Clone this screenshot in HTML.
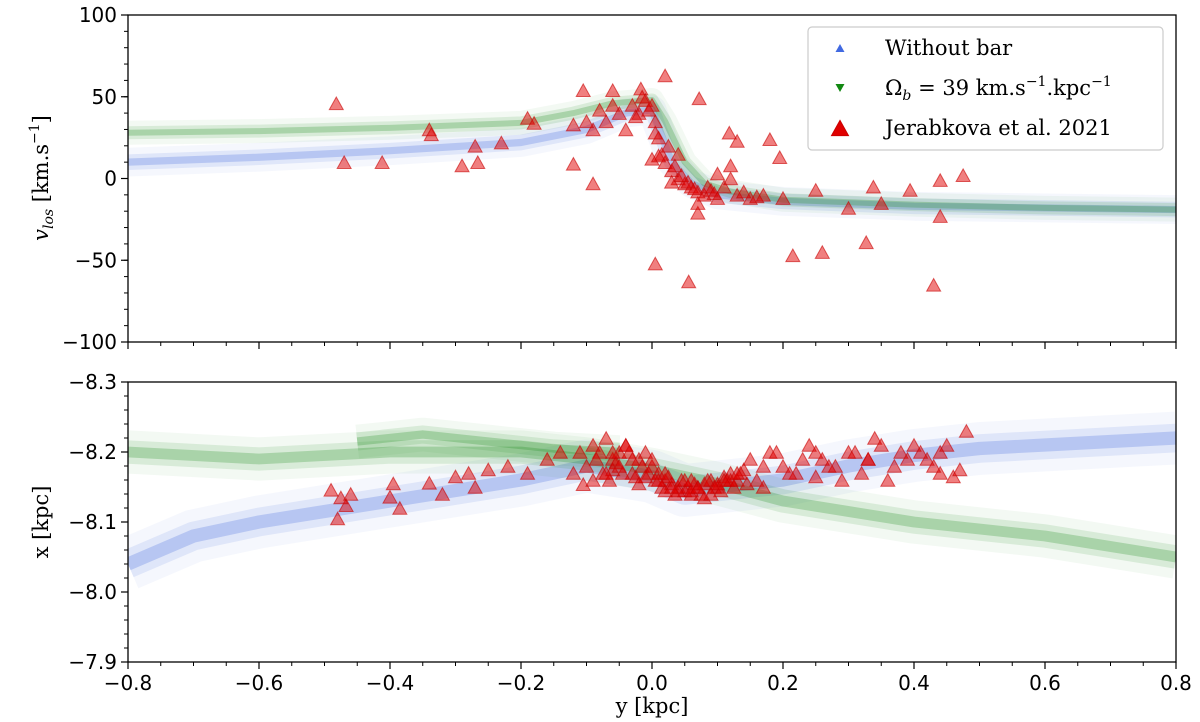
<!DOCTYPE html>
<html><head><meta charset="utf-8"><style>
html,body{margin:0;padding:0;background:#fff;width:1200px;height:722px;overflow:hidden}
svg{display:block}
.tk{font-family:"DejaVu Sans","Liberation Sans",sans-serif;font-size:20px;fill:#000}
.lb{font-family:"DejaVu Serif","Liberation Serif",serif;font-size:21px;fill:#000}
</style></head><body>
<svg id="chart" width="1200" height="722" xmlns="http://www.w3.org/2000/svg"></svg>
<script>
// ---- data ----
const xTicks=[-0.8,-0.6,-0.4,-0.2,0.0,0.2,0.4,0.6,0.8];
const xTickLabels=["\u22120.8","\u22120.6","\u22120.4","\u22120.2","0.0","0.2","0.4","0.6","0.8"];
const vTicks=[100,50,0,-50,-100];
const vTickLabels=["100","50","0","\u221250","\u2212100"];
const xpTicks=[-8.3,-8.2,-8.1,-8.0,-7.9];
const xpTickLabels=["\u22128.3","\u22128.2","\u22128.1","\u22128.0","\u22127.9"];
const blueTopY=[-0.8,-0.6,-0.4,-0.2,-0.1,-0.04,0.0,0.03,0.06,0.1,0.2,0.4,0.6,0.8];
const blueTopV=[10,13,17,22,30,40,42,10,-3,-10,-14,-17,-18,-19];
const greenTopY=[-0.8,-0.6,-0.4,-0.2,-0.12,-0.06,0.0,0.02,0.05,0.08,0.12,0.2,0.4,0.6,0.8];
const greenTopV=[28,29,31,34,40,46,48,35,10,-3,-8,-13,-16,-18,-19];
const blueBotY=[-0.8,-0.7,-0.6,-0.4,-0.2,-0.1,0.0,0.05,0.1,0.2,0.3,0.4,0.5,0.6,0.7,0.8];
const blueBotX=[-8.04,-8.08,-8.1,-8.13,-8.16,-8.18,-8.165,-8.145,-8.15,-8.16,-8.18,-8.195,-8.205,-8.21,-8.215,-8.22];
const greenBotY=[-0.8,-0.6,-0.4,-0.2,-0.1,0.0,0.05,0.1,0.2,0.3,0.4,0.5,0.6,0.7,0.8];
const greenBotX=[-8.2,-8.19,-8.2,-8.2,-8.19,-8.175,-8.165,-8.155,-8.13,-8.115,-8.1,-8.09,-8.08,-8.065,-8.05];
const greenBot2Y=[-0.45,-0.35,-0.25,-0.15,-0.05];
const greenBot2X=[-8.215,-8.225,-8.215,-8.205,-8.2];
const obsTopY=[-0.482,-0.47,-0.412,-0.34,-0.337,-0.29,-0.266,-0.27,-0.23,-0.19,-0.18,-0.12,-0.09,-0.105,-0.06,-0.017,0.02,0.072,0.005,0.056,0.07,0.118,0.13,0.18,0.195,0.215,0.26,0.327,0.338,0.394,0.43,0.44,0.44,0.475,0.25,0.30,0.35,
-0.03,-0.02,-0.01,0.0,0.005,0.01,0.015,0.02,0.03,0.04,0.05,0.06,0.07,0.08,0.09,0.1,0.11,0.12,0.13,0.15,-0.05,-0.07,-0.09,-0.06,-0.04,-0.1,-0.12,0.0,0.01,0.04,0.03,0.07,0.1,0.12,0.17,0.2,-0.015,-0.005,0.025,0.035,0.045,0.055,0.065,0.085,0.095,-0.08,-0.025,0.005,0.14,0.16];
const obsTopV=[46,10,10,30,27,8,10,20,22,37,34,9,-3,54,54,55,63,49,-52,-63,-21,28,23,24,13,-47,-45,-39,-5,-7,-65,-1,-23,2,-7,-18,-15,
45,40,48,45,35,25,15,10,5,0,-3,-5,-8,-10,-7,-12,-5,0,-10,-12,40,35,30,45,30,35,33,12,14,15,-2,-15,3,8,-10,-12,50,42,20,8,2,-2,-6,-5,-9,42,38,28,-8,-11];
const obsBotY=[-0.48,-0.467,-0.49,-0.475,-0.46,-0.4,-0.395,-0.385,-0.34,-0.32,-0.3,-0.28,-0.27,-0.25,-0.22,-0.19,-0.16,-0.14,-0.12,-0.105,-0.11,-0.09,-0.08,-0.07,-0.06,-0.05,-0.04,-0.03,-0.02,-0.01,0.0,0.01,0.02,0.03,0.04,0.05,0.06,0.07,0.08,0.09,0.1,0.11,0.12,0.13,0.14,0.15,0.16,0.18,0.2,0.22,0.24,0.26,0.28,0.3,0.32,0.34,0.36,0.38,0.4,0.42,0.44,0.46,0.48,
-0.1,-0.085,-0.075,-0.065,-0.055,-0.045,-0.035,-0.025,-0.015,-0.005,0.005,0.015,0.025,0.035,0.045,0.055,0.065,0.075,0.085,0.095,0.105,0.115,0.125,0.135,0.145,0.17,0.19,0.21,0.23,0.25,0.27,0.29,0.31,0.33,0.35,0.37,0.39,0.41,0.43,0.45,0.47,0.02,0.06,0.1,-0.06,-0.02,0.04,0.08,0.12,0.17,0.25,0.33,0.44,
-0.09,-0.07,-0.05,-0.03,-0.01,0.01,0.03,0.05,0.07,0.09,0.11,0.13,-0.06,-0.04,0.0,0.02,0.06];
const obsBotX=[-8.105,-8.124,-8.146,-8.135,-8.14,-8.136,-8.155,-8.12,-8.156,-8.14,-8.165,-8.17,-8.15,-8.175,-8.18,-8.17,-8.19,-8.2,-8.17,-8.154,-8.2,-8.21,-8.2,-8.22,-8.19,-8.2,-8.21,-8.17,-8.19,-8.2,-8.18,-8.17,-8.16,-8.155,-8.15,-8.145,-8.14,-8.15,-8.155,-8.16,-8.15,-8.165,-8.17,-8.16,-8.175,-8.19,-8.16,-8.2,-8.18,-8.17,-8.21,-8.19,-8.18,-8.2,-8.17,-8.22,-8.16,-8.2,-8.21,-8.19,-8.17,-8.165,-8.23,
-8.18,-8.19,-8.17,-8.16,-8.185,-8.17,-8.2,-8.165,-8.18,-8.17,-8.16,-8.15,-8.165,-8.14,-8.16,-8.15,-8.155,-8.14,-8.16,-8.15,-8.145,-8.16,-8.15,-8.17,-8.155,-8.18,-8.2,-8.17,-8.19,-8.2,-8.18,-8.16,-8.2,-8.19,-8.21,-8.18,-8.19,-8.2,-8.18,-8.21,-8.175,-8.145,-8.145,-8.155,-8.175,-8.155,-8.145,-8.135,-8.16,-8.15,-8.165,-8.19,-8.2,
-8.16,-8.17,-8.18,-8.19,-8.165,-8.16,-8.15,-8.16,-8.15,-8.14,-8.16,-8.17,-8.2,-8.21,-8.19,-8.17,-8.16];

// ---- scales ----
const L=128,R=1176,T1=15,B1=342,T2=382,B2=662;
const sx=v=>L+(v+0.8)/1.6*(R-L);
const sv=v=>T1+(100-v)/200*(B1-T1);
const sp=v=>T2+(v+8.3)/0.4*(B2-T2);
const NS="http://www.w3.org/2000/svg";
const svg=document.getElementById('chart');
function mk(tag,attrs,parent){const e=document.createElementNS(NS,tag);for(const k in attrs)e.setAttribute(k,attrs[k]);(parent||svg).appendChild(e);return e;}
function tri(cx,cy,s,down){const h=s*0.9;return down?`M${cx-s/2},${cy-h/2}L${cx+s/2},${cy-h/2}L${cx},${cy+h/2}Z`:`M${cx-s/2},${cy+h/2}L${cx+s/2},${cy+h/2}L${cx},${cy-h/2}Z`;}
function band(parent,xs,ys,fy,color,name,w){
  const d=xs.map((x,i)=>(i?'L':'M')+sx(x)+','+fy(ys[i])).join('');
  const g=mk('g',{},parent);
  
  
  mk('path',{d:d,fill:'none',stroke:color,'stroke-width':w*2.4,'stroke-opacity':0.05,'stroke-linejoin':'round'},g);
  mk('path',{d:d,fill:'none',stroke:color,'stroke-width':w*1.3,'stroke-opacity':0.12,'stroke-linejoin':'round'},g);
  mk('path',{d:d,fill:'none',stroke:color,'stroke-width':w*0.6,'stroke-opacity':0.25,'stroke-linejoin':'round'},g);
}
function obs(parent,xs,ys,fy,name){
  const g=mk('g',{},parent);
  
  
  xs.forEach((x,i)=>{const p=mk('path',{d:tri(sx(x),fy(ys[i]),14,false),fill:'rgba(225,0,0,0.5)',stroke:'rgba(200,0,0,0.6)','stroke-width':1},g);
    
    });
}
const defs=mk('defs',{});
const c1=mk('clipPath',{id:'c1'},defs);mk('rect',{x:L,y:T1,width:R-L,height:B1-T1},c1);
const c2=mk('clipPath',{id:'c2'},defs);mk('rect',{x:L,y:T2,width:R-L,height:B2-T2},c2);

const gt=mk('g',{'clip-path':'url(#c1)'});


band(gt,blueTopY,blueTopV,sv,'#4169e1','blue-stream-vlos',12);
band(gt,greenTopY,greenTopV,sv,'#1a8a1a','green-stream-vlos',10);
obs(gt,obsTopY,obsTopV,sv,'observed-vlos');

const gb=mk('g',{'clip-path':'url(#c2)'});


band(gb,blueBotY,blueBotX,sp,'#4169e1','blue-stream-x',22);
band(gb,greenBotY,greenBotX,sp,'#1a8a1a','green-stream-x',18);
band(gb,greenBot2Y,greenBot2X,sp,'#1a8a1a','green-stream-x-upper',14);
obs(gb,obsBotY,obsBotX,sp,'observed-x');

[[T1,B1],[T2,B2]].forEach(([t,b],pi)=>{
  const r=mk('rect',{x:L,y:t,width:R-L,height:b-t,fill:'none',stroke:'#000','stroke-width':1.3});
  
  
  xTicks.forEach(v=>{mk('line',{x1:sx(v),x2:sx(v),y1:b,y2:b+7,stroke:'#000','stroke-width':1.2});});
  for(let v=-0.8;v<=0.801;v+=0.05){mk('line',{x1:sx(v),x2:sx(v),y1:b,y2:b+4,stroke:'#000','stroke-width':1});}
});
xTicks.forEach((v,i)=>{const t=mk('text',{x:sx(v),y:B2+28,'text-anchor':'middle',class:'tk'});t.textContent=xTickLabels[i];
  
  });
vTicks.forEach((v,i)=>{mk('line',{x1:L-7,x2:L,y1:sv(v),y2:sv(v),stroke:'#000','stroke-width':1.2});
  const t=mk('text',{x:L-11,y:sv(v)+7,'text-anchor':'end',class:'tk'});t.textContent=vTickLabels[i];
  
  });
for(let v=-100;v<=100;v+=10){mk('line',{x1:L-4,x2:L,y1:sv(v),y2:sv(v),stroke:'#000','stroke-width':1});}
xpTicks.forEach((v,i)=>{mk('line',{x1:L-7,x2:L,y1:sp(v),y2:sp(v),stroke:'#000','stroke-width':1.2});
  const t=mk('text',{x:L-11,y:sp(v)+7,'text-anchor':'end',class:'tk'});t.textContent=xpTickLabels[i];
  
  });
for(let v=-8.3;v<=-7.899;v+=0.02){mk('line',{x1:L-4,x2:L,y1:sp(v),y2:sp(v),stroke:'#000','stroke-width':1});}

let t=mk('text',{x:652,y:713,'text-anchor':'middle',class:'lb'});t.textContent='y [kpc]';


t=mk('text',{x:0,y:0,'text-anchor':'middle',class:'lb',transform:'translate(48,178) rotate(-90)'});
t.innerHTML='<tspan font-style="italic">v</tspan><tspan font-size="14" dy="5" font-style="italic">los</tspan><tspan dy="-5"> [km.s</tspan><tspan font-size="14" dy="-9">−1</tspan><tspan dy="9">]</tspan>';


t=mk('text',{x:0,y:0,'text-anchor':'middle',class:'lb',transform:'translate(48,522) rotate(-90)'});t.textContent='x [kpc]';



const lg=mk('g',{});


mk('rect',{x:808,y:27,width:355,height:123,rx:4,fill:'#fff','fill-opacity':0.85,stroke:'#ccc','stroke-width':1.2},lg);
const ly=[48,88,128];
let e=mk('g',{},lg);


mk('path',{d:tri(840,ly[0],9,false),fill:'#4169e1'},e);
t=mk('text',{x:885,y:ly[0]+7,class:'lb'},e);t.textContent='Without bar';
e=mk('g',{},lg);


mk('path',{d:tri(840,ly[1],9,true),fill:'#118811'},e);
t=mk('text',{x:885,y:ly[1]+7,class:'lb'},e);
t.innerHTML='Ω<tspan font-size="14" dy="5" font-style="italic">b</tspan><tspan dy="-5"> = 39 km.s</tspan><tspan font-size="14" dy="-9">−1</tspan><tspan dy="9">.kpc</tspan><tspan font-size="14" dy="-9">−1</tspan>';
e=mk('g',{},lg);


mk('path',{d:tri(840,ly[2],17,false),fill:'#e00000',stroke:'#c00','stroke-width':1},e);
t=mk('text',{x:885,y:ly[2]+7,class:'lb'},e);t.textContent='Jerabkova et al. 2021';
</script>
</body></html>
